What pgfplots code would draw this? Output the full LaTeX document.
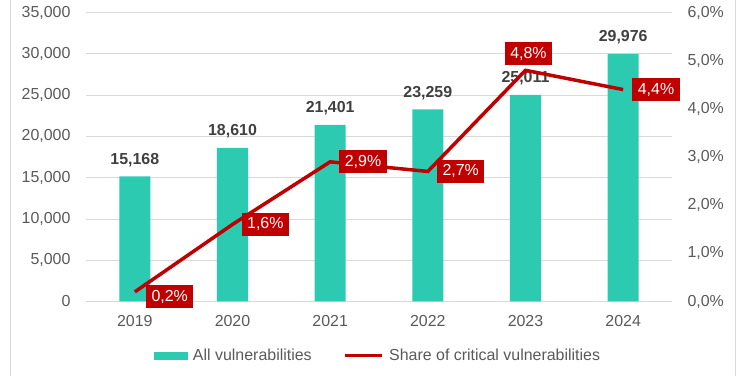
\documentclass[border=0pt]{standalone}
\usepackage{pgfplots}
\pgfplotsset{compat=1.18}
\usepackage{fontspec}
\setmainfont{Liberation Sans}
\definecolor{barteal}{HTML}{2DCAB2}
\definecolor{critred}{HTML}{C00000}
\definecolor{ticktxt}{HTML}{595959}
\definecolor{lbltxt}{HTML}{404040}
\definecolor{gridgray}{HTML}{D9D9D9}
\newcommand{\fs}{\fontsize{16}{19}\selectfont}
\tikzset{lblbox/.style={fill=critred, text=white, font=\fs, inner xsep=5.5bp, inner ysep=4.5bp, text height=11.5bp, text depth=2.5bp}}
\begin{document}
\begin{tikzpicture}
\path (0bp,0bp) rectangle (750bp,375bp);
\draw[gridgray, line width=1bp] (10.5bp,0bp) -- (10.5bp,375bp);
\draw[gridgray, line width=1bp] (735.5bp,0bp) -- (735.5bp,375bp);
\begin{axis}[
  name=main,
  at={(86bp,74bp)}, anchor=south west,
  width=586bp, height=289bp, scale only axis,
  xmin=-0.5, xmax=5.5, ymin=0, ymax=35000,
  xtick={0,...,5}, xticklabels={2019,2020,2021,2022,2023,2024},
  ytick={0,5000,...,35000},
  axis line style={draw=none},
  major tick style={draw=none},
  ymajorgrids, grid style={gridgray, line width=0.8bp},
  tick label style={font=\fs, text=ticktxt},
  /pgf/number format/assume math mode=true,
  /pgf/number format/1000 sep={,},
  scaled y ticks=false,
  yticklabel style={xshift=-12bp},
  xticklabel style={yshift=-10bp},
]
\addplot[ybar, fill=barteal, draw=none, bar width=31bp,
  nodes near coords={\pgfmathprintnumber[assume math mode=true,1000 sep={,}]{\pgfplotspointmeta}},
  nodes near coords style={font=\bfseries\fs, text=lbltxt, anchor=base, inner sep=0pt, yshift=12bp}]
  coordinates {(0,15168) (1,18610) (2,21401) (3,23259) (4,25011) (5,29976)};
\end{axis}
\begin{axis}[
  at={(86bp,74bp)}, anchor=south west,
  width=586bp, height=289bp, scale only axis,
  xmin=-0.5, xmax=5.5, ymin=0, ymax=6,
  hide x axis, axis y line*=right,
  axis line style={draw=none},
  major tick style={draw=none},
  ytick={0,...,6},
  yticklabel={\pgfmathprintnumber[fixed,fixed zerofill,precision=1,use comma,assume math mode=true]{\tick}\%},
  tick label style={font=\fs, text=ticktxt},
  yticklabel style={xshift=12bp},
  legend columns=2,
  legend style={draw=none, fill=none, at={(0.498,-0.187)}, anchor=center, font=\fs, text=ticktxt,
    /tikz/every even column/.append style={column sep=30bp}},
  legend cell align=left,
]
\addlegendimage{legend image code/.code={\fill[barteal] (0bp,-3.5bp) rectangle (33bp,3.5bp); \path (37bp,0bp);}}
\addlegendentry{All vulnerabilities}
\addplot[critred, line width=3.5bp, mark=none,
  legend image code/.code={\draw[critred,line width=3.5bp] (0bp,0bp) -- (37bp,0bp); \path (40bp,0bp);}]
  coordinates {(0,0.2) (1,1.6) (2,2.9) (3,2.7) (4,4.8) (5,4.4)};
\addlegendentry{Share of critical vulnerabilities}
\addplot[draw=none, mark=none, forget plot, point meta=explicit symbolic,
  nodes near coords, nodes near coords style={lblbox, anchor=west, xshift=9bp}]
  coordinates {(1,1.6) [1,6\%] (2,2.9) [2,9\%] (3,2.7) [2,7\%] (5,4.4) [4,4\%]};
\addplot[draw=none, mark=none, forget plot, point meta=explicit symbolic,
  nodes near coords, nodes near coords style={lblbox, anchor=west, xshift=11bp, yshift=-5bp}]
  coordinates {(0,0.2) [0,2\%]};
\addplot[draw=none, mark=none, forget plot, point meta=explicit symbolic,
  nodes near coords, nodes near coords style={lblbox, anchor=south, xshift=3bp, yshift=5bp}]
  coordinates {(4,4.8) [4,8\%]};
\end{axis}
\end{tikzpicture}
\end{document}
